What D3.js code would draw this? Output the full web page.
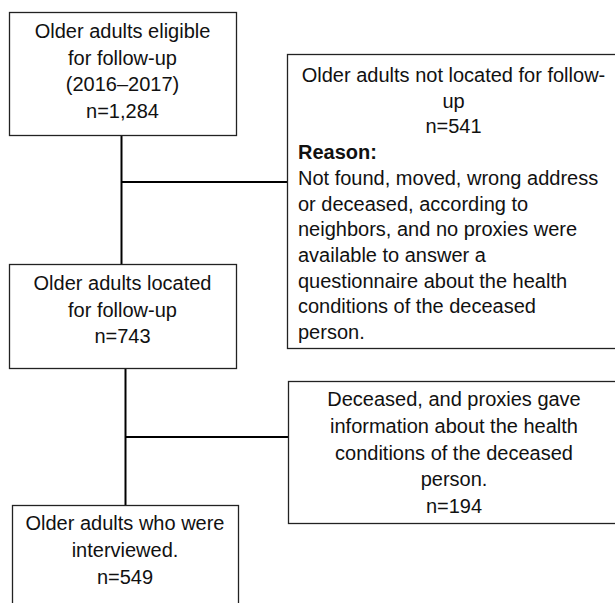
<!DOCTYPE html>
<html>
<head>
<meta charset="utf-8">
<script src="https://cdn.jsdelivr.net/npm/d3@7"></script>
<style>
  body { margin: 0; background: #fff; }
  svg { display: block; }
  text { font-family: "Liberation Sans", Arial, sans-serif; font-size: 20px; fill: #111; }
</style>
</head>
<body>
<svg width="615" height="603"></svg>
<script>
// flow stages and counts
var stageNames = ["eligible", "notLocated", "located", "proxy", "interviewed"];
var stageCounts = [1284, 541, 743, 194, 549];
var stageTitles = [
  ["Older adults eligible", "for follow-up", "(2016\u20132017)"],
  ["Older adults not located for follow-", "up"],
  ["Older adults located", "for follow-up"],
  ["Deceased, and proxies gave", "information about the health", "conditions of the deceased", "person."],
  ["Older adults who were", "interviewed."]
];
var reasonLines = [
  "Not found, moved, wrong address",
  "or deceased, according to",
  "neighbors, and no proxies were",
  "available to answer a",
  "questionnaire about the health",
  "conditions of the deceased",
  "person."
];

var svg = d3.select("svg");
var fmt = d3.format(",");

// box geometry (layout only)
var boxes = {
  eligible:    { x0: 9,   x1: 236, y0: 12,  y1: 135, first: 31,  step: 26.7 },
  notLocated:  { x0: 287, x1: 620, y0: 54,  y1: 348, first: 75,  step: 25.7 },
  located:     { x0: 9,   x1: 236, y0: 264, y1: 368, first: 283, step: 26.5 },
  proxy:       { x0: 288, x1: 620, y0: 381, y1: 523, first: 399, step: 26.75 },
  interviewed: { x0: 12,  x1: 238, y0: 505, y1: 640, first: 523, step: 27 }
};

// connectors
var links = [
  [[121.5, 135], [121.5, 264]],
  [[121.5, 182], [287, 182]],
  [[125.5, 368], [125.5, 505]],
  [[125.5, 437], [288, 437]]
];
var line = d3.line();
svg.selectAll(".link").data(links).enter().append("path")
  .attr("class", "link")
  .attr("d", line)
  .attr("stroke", "#000")
  .attr("stroke-width", 2)
  .attr("fill", "none");

stageNames.forEach(function (name, i) {
  var b = boxes[name];
  var g = svg.append("g");
  g.append("rect")
    .attr("x", b.x0 + 0.5).attr("y", b.y0 + 0.5)
    .attr("width", b.x1 - b.x0).attr("height", b.y1 - b.y0)
    .attr("fill", "#fff")
    .attr("stroke", "#222")
    .attr("stroke-width", 1.3);

  var lines = stageTitles[i].concat(["n=" + fmt(stageCounts[i])]);
  var cx = (b.x0 + b.x1) / 2;
  g.selectAll("text.c").data(lines).enter().append("text")
    .attr("class", "c")
    .attr("x", cx)
    .attr("y", function (d, j) { return b.first + j * b.step; })
    .attr("dy", "0.35em")
    .attr("text-anchor", "middle")
    .text(function (d) { return d; });

  if (name === "notLocated") {
    var y0 = b.first + lines.length * b.step;
    g.append("text")
      .attr("x", b.x0 + 11)
      .attr("y", y0)
      .attr("dy", "0.35em")
      .attr("font-weight", "bold")
      .text("Reason:");
    g.selectAll("text.r").data(reasonLines).enter().append("text")
      .attr("class", "r")
      .attr("x", b.x0 + 11)
      .attr("y", function (d, j) { return y0 + (j + 1) * b.step; })
      .attr("dy", "0.35em")
      .text(function (d) { return d; });
  }
});
</script>
</body>
</html>
